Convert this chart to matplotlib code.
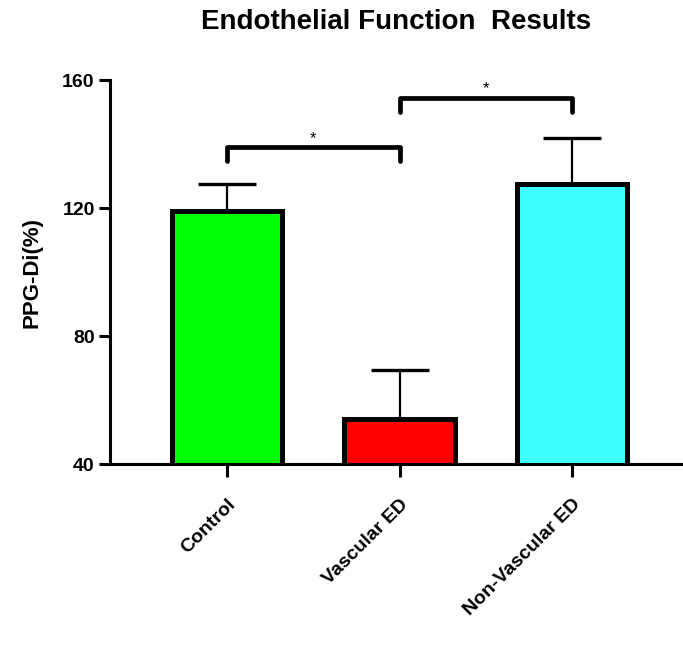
import matplotlib.pyplot as plt
import numpy as np

# values
groups = ["Control", "Vascular ED", "Non-Vascular ED"]
means = [119, 54, 127.5]
sem = [8.5, 15.5, 14.5]
bar_colors = ["#00FF00", "#FF0000", "#40FFFF"]
yticks = [40, 80, 120, 160]

# significance brackets: (left group, right group, height)
brackets = [(0, 1, 139), (1, 2, 154.5)]

plt.rcParams["font.family"] = ["Liberation Sans", "DejaVu Sans"]
plt.rcParams["font.weight"] = "bold"

fig = plt.figure(figsize=(6.83, 6.62), dpi=100)
ax = fig.add_axes([0.161, 0.299, 0.839, 0.58])

x = np.arange(len(groups))
ax.bar(x, means, width=0.64, bottom=0, color=bar_colors, edgecolor="black",
       linewidth=3.6, zorder=2)
ax.errorbar(x, means, yerr=[np.zeros(len(sem)), sem], fmt="none", ecolor="black",
            elinewidth=1.6, capsize=21, capthick=2.4, zorder=1)

for x0, x1, h in brackets:
    drop = 4.4
    ax.plot([x0, x0, x1, x1], [h - drop, h, h, h - drop], color="black",
            linewidth=3.4, solid_capstyle="round", solid_joinstyle="round",
            clip_on=False, zorder=3)
    ax.text((x0 + x1) / 2, h + 0.5, "*", ha="center", va="bottom",
            fontsize=12, fontweight="normal")

ax.set_xlim(-0.678, 2.643)
ax.set_ylim(40, 160)
ax.set_yticks(yticks)
ax.set_yticklabels([str(t) for t in yticks], fontsize=14, fontweight="bold")
ax.set_xticks(x)
ax.set_xticklabels(groups, rotation=45, ha="right", rotation_mode="anchor",
                   fontsize=14, fontweight="bold")
ax.tick_params(axis="y", length=8, width=2.2, pad=3)
ax.tick_params(axis="x", length=9, width=2.2, pad=14)

for side in ["top", "right"]:
    ax.spines[side].set_visible(False)
for side in ["left", "bottom"]:
    ax.spines[side].set_linewidth(2.2)

ax.set_ylabel("PPG-Di(%)", fontsize=16, fontweight="bold", labelpad=14)
ax.set_title("Endothelial Function  Results", fontsize=20, fontweight="bold", pad=37)

fig.savefig("out.png", dpi=100)
